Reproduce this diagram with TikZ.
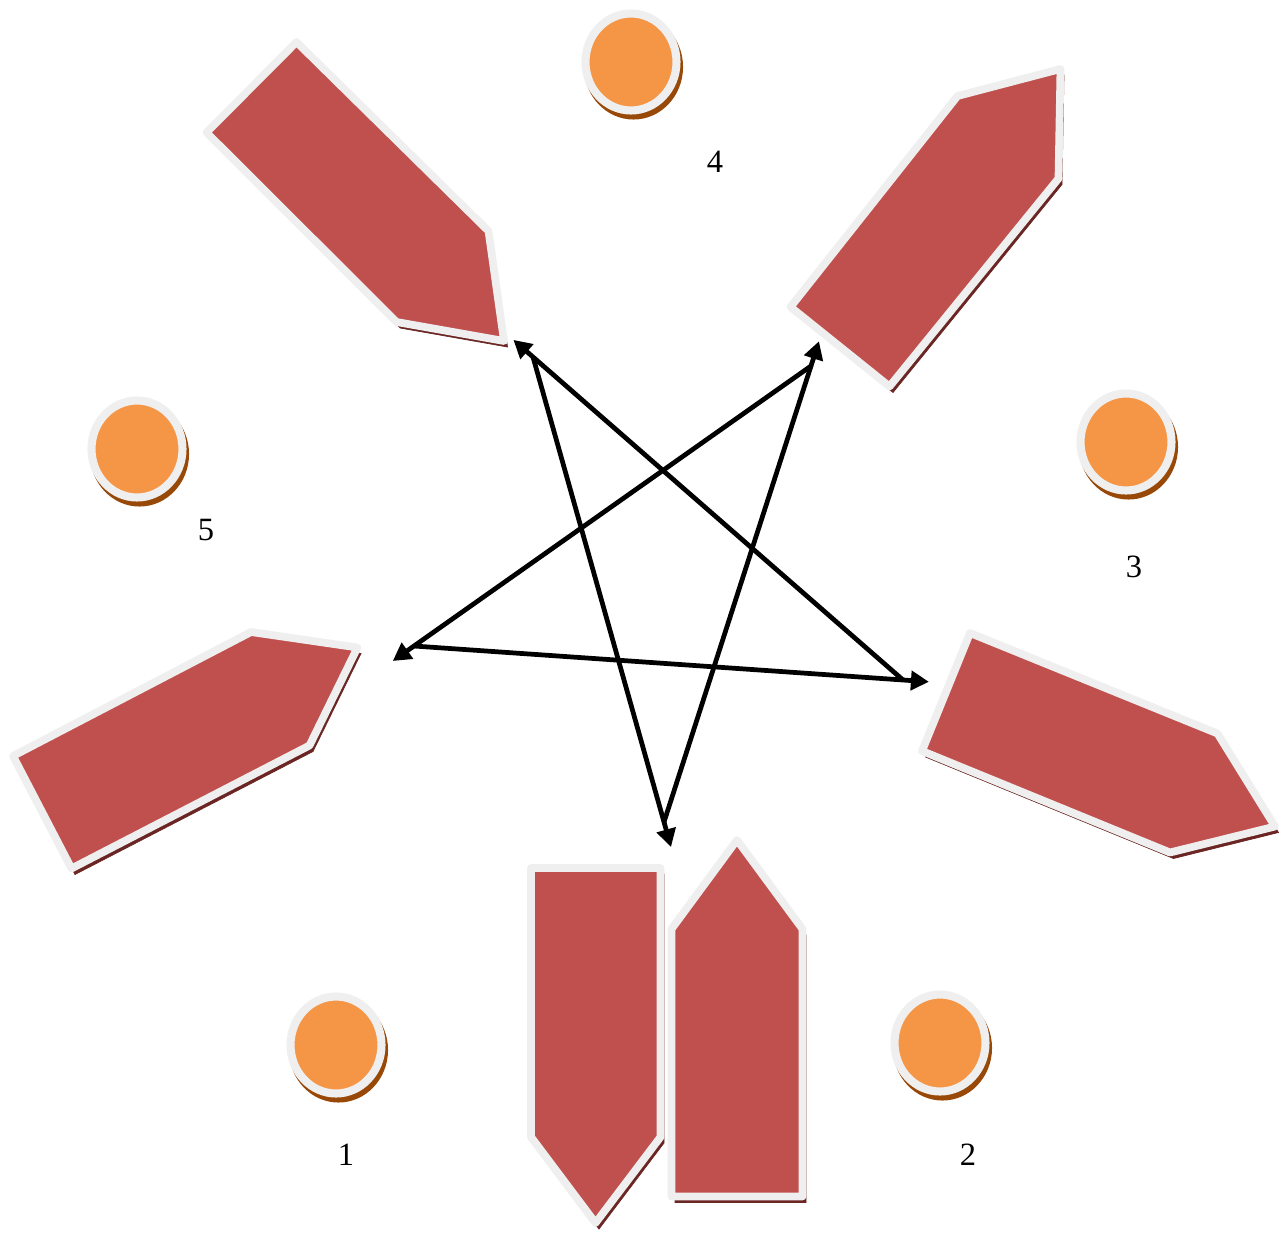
\documentclass[tikz,border=0pt]{standalone}
\usepackage{fontspec}
\setmainfont{Liberation Serif}
\usepackage{xcolor}
\usepackage{tikz}
\usetikzlibrary{arrows.meta,shapes.geometric}

\definecolor{tagred}{HTML}{C0504D}
\definecolor{rimgray}{HTML}{EFEFEF}
\definecolor{tagshade}{HTML}{6B2624}
\definecolor{dotorange}{HTML}{F59646}
\definecolor{dotshade}{HTML}{984807}

\begin{document}
\begin{tikzpicture}[x=0.02cm, y=-0.02cm,
  tag/.style={draw=rimgray, fill=tagred, line width=4.4pt, line join=round,
    preaction={draw=tagshade, fill=tagshade, transform canvas={xshift=0.07cm, yshift=-0.12cm}}},
  dot/.style={ellipse, draw=rimgray, fill=dotorange, line width=4.6pt, minimum width=1.82cm, minimum height=1.94cm, inner sep=0pt,
    preaction={draw=dotshade, fill=dotshade, transform canvas={xshift=0.05cm, yshift=-0.1cm}}},
  num/.style={font=\fontsize{18.5}{22}\selectfont},
  arr/.style={-{Triangle[length=0.36cm, width=0.38cm]}, line width=2.7pt, shorten >=-0.52cm}
]
\useasboundingbox (0,0) rectangle (1282,1237);

% the six tags
\draw[tag] (296.5,42) -- (488.5,231) -- (504,341) -- (396.5,322) -- (206.5,132.5) -- cycle;
\draw[tag] (1060.5,69) -- (1058.5,178.5) -- (889.5,386.5) -- (790.5,307) -- (957.5,96) -- cycle;
\draw[tag] (13,756) -- (251,632) -- (357.5,647.5) -- (309.5,745.5) -- (71.5,868.5) -- cycle;
\draw[tag] (970,633) -- (1217.5,733.5) -- (1275,826.5) -- (1170,852.5) -- (922,751) -- cycle;
\draw[tag] (531,868) -- (660.5,868) -- (660.5,1137) -- (595.5,1223) -- (531,1137) -- cycle;
\draw[tag] (737,840) -- (802.5,929) -- (802.5,1196.5) -- (671.5,1196.5) -- (671.5,929) -- cycle;

% dots and numbers
\foreach \n/\x/\y in {1/336/1045, 2/940/1043, 3/1126/442, 4/631/62, 5/137/449}
  \node[dot] (dot\n) at (\x,\y) {};

\node[num] (num1) at (346,1155) {1};
\node[num] (num2) at (968,1155) {2};
\node[num] (num3) at (1134,567) {3};
\node[num] (num4) at (715,162) {4};
\node[num] (num5) at (206,530) {5};

% star
\coordinate (ul) at (533,357);
\coordinate (bot) at (664,822);
\coordinate (ur) at (811,366);
\coordinate (lft) at (414,646);
\coordinate (rgt) at (903,680);

\draw[arr] (ul) -- (bot);
\draw[arr] (bot) -- (ur);
\draw[arr] (ur) -- (lft);
\draw[arr] (lft) -- (rgt);
\draw[arr] (rgt) -- (ul);

\end{tikzpicture}
\end{document}
